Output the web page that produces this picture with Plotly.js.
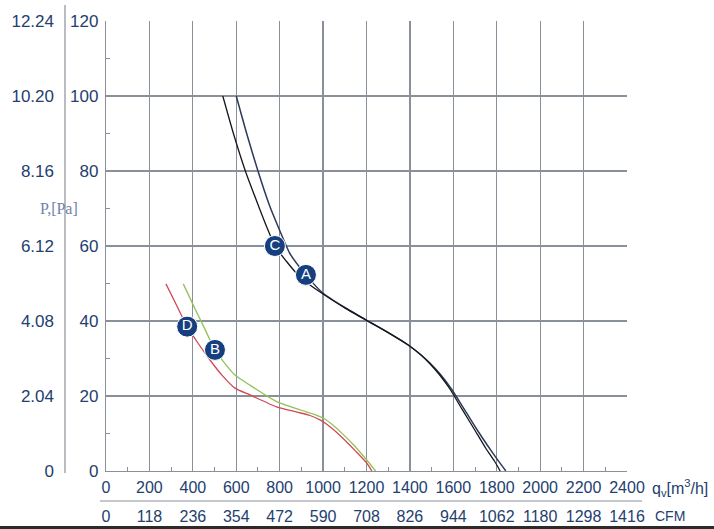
<!DOCTYPE html>
<html>
<head>
<meta charset="utf-8">
<script src="https://cdn.plot.ly/plotly-3.0.1.min.js"></script>
<style>html,body{margin:0;padding:0;background:#fff;}#chart{width:714px;height:529px;}</style>
</head>
<body>
<div id="chart"></div>
<script>
// Flow ticks (m3/h) and the CFM equivalents
var flowTicks = [0, 200, 400, 600, 800, 1000, 1200, 1400, 1600, 1800, 2000, 2200, 2400];
var flowLabels = ['0','200','400','600','800','1000','1200','1400','1600','1800','2000','2200','2400'];
var cfmLabels = ['0','118','236','354','472','590','708','826','944','1062','1180','1298','1416'];
// Pressure ticks (Pa) and secondary scale
var pressTicks = [0, 20, 40, 60, 80, 100, 120];
var pressLabels = ['0','20','40','60','80','100','120'];
var leftLabels = ['0','2.04','4.08','6.12','8.16','10.20','12.24'];

// Curve A
var aFlow = [600, 648, 700, 752, 794, 847, 921, 1000, 1100, 1200, 1300, 1392, 1450, 1492, 1540, 1592, 1650, 1707, 1760, 1800, 1842];
var aPress = [100, 90, 80, 71, 65, 58, 52.3, 47.4, 43.6, 40.2, 36.9, 33.6, 31.0, 28.8, 25.8, 21.8, 16.5, 11.2, 6.6, 3.3, 0];
// Curve C
var cFlow = [538, 587, 642, 707, 741, 778, 830, 878, 940, 1000, 1100, 1200, 1300, 1392, 1450, 1492, 1540, 1585, 1640, 1700, 1750, 1790, 1816];
var cPress = [100, 90, 80, 70, 65, 60, 56, 52.7, 49.6, 47.2, 43.5, 40.2, 36.9, 33.6, 31.0, 28.6, 25.4, 21.8, 16.5, 10.8, 6.0, 2.6, 0];
// Curve D
var dFlow = [276, 320, 374, 425, 479, 535, 594, 663, 786, 880, 940, 990, 1032, 1090, 1150, 1200, 1225];
var dPress = [49.9, 44.8, 38.5, 34.0, 29.6, 25.5, 22.1, 20.3, 17.1, 15.7, 14.8, 13.5, 11.8, 8.8, 5.3, 2.2, 0];
// Curve B
var bFlow = [356, 400, 450, 502, 550, 594, 663, 786, 900, 960, 1010, 1050, 1090, 1140, 1200, 1242];
var bPress = [49.9, 44.5, 38.5, 32.3, 28.5, 25.6, 22.9, 18.5, 16.2, 15.1, 13.8, 12.0, 9.9, 7.0, 3.0, 0];

// Curve labels
var labelNames = ['A', 'C', 'D', 'B'];
var labelFlow = [921, 778, 374, 502];
var labelPress = [52.3, 60, 38.5, 32.3];

var W = 714, H = 529, ML = 60, MR = 87, MT = 21, MB = 10;
var PW = W - ML - MR, PH = H - MT - MB;
function px(x){ return (x - ML) / PW; }
function py(y){ return (H - MB - y) / PH; }

var tickColor = '#23406f';
var gridColor = '#8a9099';
var sans = 'Liberation Sans, Arial, sans-serif';

var traces = [
  {x: aFlow, y: aPress, mode: 'lines', line: {color: '#2d3b5a', width: 1.5, shape: 'spline', smoothing: 0.6}, hoverinfo: 'skip'},
  {x: cFlow, y: cPress, mode: 'lines', line: {color: '#15161c', width: 1.3, shape: 'spline', smoothing: 0.6}, hoverinfo: 'skip'},
  {x: dFlow, y: dPress, mode: 'lines', line: {color: '#cf4a55', width: 1.3, shape: 'spline', smoothing: 0.6}, hoverinfo: 'skip'},
  {x: bFlow, y: bPress, mode: 'lines', line: {color: '#93c258', width: 1.3, shape: 'spline', smoothing: 0.6}, hoverinfo: 'skip'},
  {x: labelFlow, y: labelPress, mode: 'markers+text', text: labelNames, textposition: 'middle center',
   textfont: {family: sans, size: 15, color: '#ffffff'},
   marker: {size: 21, color: '#163f80', line: {color: '#ffffff', width: 1}}, hoverinfo: 'skip'},
  {x: [0], y: [0], xaxis: 'x2', yaxis: 'y2', mode: 'markers', marker: {opacity: 0}, hoverinfo: 'skip'}
];

var layout = {
  width: W, height: H,
  margin: {l: ML, r: MR, t: MT, b: MB, pad: 0},
  paper_bgcolor: '#ffffff', plot_bgcolor: '#ffffff',
  showlegend: false,
  xaxis: {
    domain: [px(106), 1], range: [0, 2400], tickmode: 'array', tickvals: flowTicks, ticktext: flowLabels,
    showgrid: true, gridcolor: gridColor, gridwidth: 1.2, zeroline: false,
    showline: true, linecolor: gridColor, linewidth: 1.2, ticks: '',
    minor: {ticks: 'inside', ticklen: 4, tickcolor: gridColor, tickmode: 'linear', tick0: 100, dtick: 200, showgrid: false},
    tickfont: {family: sans, size: 16, color: tickColor},
    ticklabelstandoff: 2, fixedrange: true
  },
  yaxis: {
    domain: [py(471), 1], range: [0, 120], tickmode: 'array', tickvals: pressTicks, ticktext: pressLabels,
    showgrid: true, gridcolor: gridColor, gridwidth: 1.2, zeroline: false,
    showline: true, linecolor: gridColor, linewidth: 1.2, ticks: '',
    minor: {ticks: 'inside', ticklen: 4, tickcolor: gridColor, tickmode: 'linear', tick0: 10, dtick: 20, showgrid: false},
    tickfont: {family: sans, size: 17, color: tickColor},
    ticklabelstandoff: 3, fixedrange: true
  },
  xaxis2: {
    overlaying: 'x', anchor: 'free', position: py(502), side: 'bottom', range: [0, 2400],
    tickmode: 'array', tickvals: flowTicks, ticktext: cfmLabels,
    showgrid: false, zeroline: false, showline: false, ticks: '',
    tickfont: {family: sans, size: 16, color: tickColor},
    ticklabelstandoff: 3, fixedrange: true
  },
  yaxis2: {
    overlaying: 'y', anchor: 'free', position: px(65), side: 'left', range: [0, 120],
    tickmode: 'array', tickvals: pressTicks, ticktext: leftLabels,
    showgrid: false, zeroline: false, showline: false, ticks: '',
    tickfont: {family: sans, size: 17, color: tickColor},
    ticklabelstandoff: 11, fixedrange: true
  },
  shapes: [
    {type: 'line', xref: 'paper', yref: 'paper', x0: px(65), x1: px(65), y0: py(5), y1: py(473), line: {color: gridColor, width: 1.2}},
    {type: 'line', xref: 'paper', yref: 'paper', x0: px(100), x1: px(642), y0: py(501), y1: py(501), line: {color: gridColor, width: 1.2}},
    {type: 'rect', xref: 'paper', yref: 'paper', x0: px(0), x1: px(714), y0: py(529), y1: py(526), fillcolor: '#2b2b2b', line: {width: 0}}
  ],
  annotations: [
    {text: 'P,[Pa]', xref: 'paper', yref: 'paper', x: px(59), y: py(208), xanchor: 'center', yanchor: 'middle', showarrow: false,
     font: {family: 'Liberation Serif, Times New Roman, serif', size: 16, color: '#6f82ab'}},
    {text: 'q<sub>v</sub>[m<sup>3</sup>/h]', xref: 'paper', yref: 'paper', x: px(650), y: py(488), xanchor: 'left', yanchor: 'middle', showarrow: false,
     font: {family: sans, size: 16, color: tickColor}},
    {text: 'CFM', xref: 'paper', yref: 'paper', x: px(653), y: py(516), xanchor: 'left', yanchor: 'middle', showarrow: false,
     font: {family: sans, size: 14, color: tickColor}}
  ]
};

Plotly.newPlot('chart', traces, layout, {displayModeBar: false, staticPlot: true});
</script>
</body>
</html>
